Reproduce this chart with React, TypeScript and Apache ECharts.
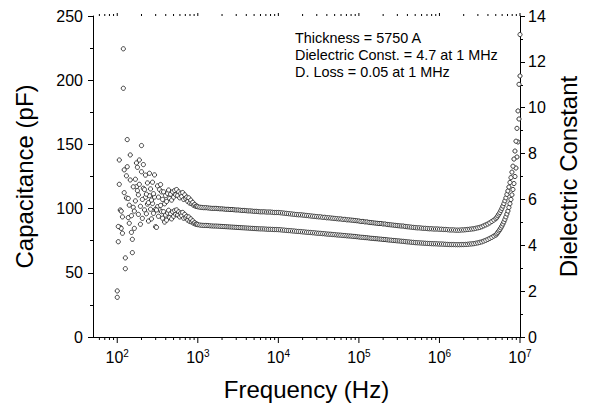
import React, { useEffect, useRef } from 'react';
import * as echarts from 'echarts';

// ---- frequency sweep (Hz) ----
const freqA = [100,103,106,109,112,116,119,122,126,130,133,137,141,145,150,154,158,163,168,173,178,183,188,194,200,205,211,218,224,230,237,244,251,259,266,274,282,290,299,307,316,325,335,345,355,365,376,387,398,410,422,434,447,460,473,487,501,516,531,546,562,579,596,613,631,649,668,688,708,729,750,772,794,818,841,866,891,917,944,972];
const freqB = [1000,1059,1122,1189,1259,1334,1413,1496,1585,1679,1778,1884,1995,2113,2239,2371,2512,2661,2818,2985,3162,3350,3548,3758,3981,4217,4467,4732,5012,5309,5623,5957,6310,6683,7079,7499,7943,8414,8913,9441];
const freqC = [10000,10590,11220,11890,12590,13340,14130,14960,15850,16790,17780,18840,19950,21130,22390,23710,25120,26610,28180,29850,31620,33500,35480,37580,39810,42170,44670,47320,50120,53090,56230,59570,63100,66830,70790,74990,79430,84140,89130,94410];
const freqD = [1.000e5,1.059e5,1.122e5,1.189e5,1.259e5,1.334e5,1.413e5,1.496e5,1.585e5,1.679e5,1.778e5,1.884e5,1.995e5,2.113e5,2.239e5,2.371e5,2.512e5,2.661e5,2.818e5,2.985e5,3.162e5,3.350e5,3.548e5,3.758e5,3.981e5,4.217e5,4.467e5,4.732e5,5.012e5,5.309e5,5.623e5,5.957e5,6.310e5,6.683e5,7.079e5,7.499e5,7.943e5,8.414e5,8.913e5,9.441e5];
const freqE = [1.000e6,1.059e6,1.122e6,1.189e6,1.259e6,1.334e6,1.413e6,1.496e6,1.585e6,1.679e6,1.778e6,1.884e6,1.995e6,2.113e6,2.239e6,2.371e6,2.512e6,2.661e6,2.818e6,2.985e6,3.162e6,3.350e6,3.548e6,3.758e6,3.981e6,4.217e6,4.467e6,4.732e6,5.012e6,5.158e6,5.309e6,5.464e6,5.623e6,5.788e6,5.957e6,6.131e6,6.310e6,6.494e6,6.683e6,6.879e6,7.079e6,7.286e6,7.499e6,7.718e6,7.943e6,8.175e6,8.414e6,8.660e6,8.913e6,9.173e6,9.441e6,9.716e6,1.000e7];

// ---- capacitance (pF), left axis ----
const capA = [30.9,74.2,118.9,85.3,84.6,80.8,193.7,112.4,53.2,108.3,132.6,93.0,88.6,122.3,81.5,65.7,101.0,84.6,106.0,117.0,114.0,95.5,118.9,87.8,128.7,92.4,115.8,99.0,108.8,96.0,103.5,90.3,110.0,99.5,92.0,104.0,96.3,109.0,85.9,85.4,101.5,94.0,99.0,102.5,97.6,92.5,97.6,89.5,95.0,91.0,96.5,98.7,93.0,96.0,92.0,97.5,94.0,98.5,95.5,99.0,95.0,97.5,93.5,96.5,94.5,97.0,92.5,95.5,93.0,94.0,91.0,93.5,90.0,92.0,89.5,90.5,88.5,89.0,87.8,88.0];
const capB = [87.5,87.2,87.0,86.9,86.9,86.8,86.6,86.5,86.4,86.4,86.3,86.2,86.1,86.0,85.9,85.8,85.7,85.6,85.5,85.4,85.3,85.2,85.1,85.0,84.9,84.8,84.7,84.6,84.5,84.4,84.3,84.2,84.2,84.1,84.0,83.9,83.9,83.8,83.7,83.7];
const capC = [83.6,83.5,83.3,83.2,83.0,82.9,82.8,82.6,82.5,82.3,82.2,82.1,81.9,81.8,81.6,81.5,81.4,81.2,81.1,80.9,80.8,80.7,80.5,80.4,80.2,80.1,80.0,79.8,79.7,79.5,79.4,79.3,79.1,79.0,78.8,78.7,78.6,78.4,78.3,78.1];
const capD = [77.9,77.7,77.6,77.4,77.3,77.1,76.9,76.8,76.6,76.5,76.3,76.2,76.0,75.9,75.7,75.5,75.4,75.2,75.1,74.9,74.8,74.6,74.5,74.3,74.1,74.0,73.8,73.7,73.5,73.4,73.3,73.2,73.1,73.0,72.9,72.8,72.7,72.6,72.6,72.5];
const capE = [72.4,72.4,72.3,72.2,72.1,72.0,72.0,72.0,71.9,71.9,71.9,72.0,72.0,72.1,72.2,72.4,72.5,72.7,73.0,73.3,73.7,74.1,74.7,75.3,76.0,76.8,77.6,78.6,79.4,80.4,81.5,82.6,83.7,85.0,86.4,88.0,89.7,91.6,93.6,95.8,98.1,100.9,103.8,107.1,110.7,114.9,119.5,125.0,131.6,140.2,151.9,169.8,203.3];

// ---- dielectric constant, right axis ----
const epsA = [2.01,4.82,7.72,5.54,5.49,5.24,12.57,7.29,3.45,7.03,8.61,6.04,5.75,7.94,5.29,4.26,6.55,5.49,6.88,7.59,7.40,6.20,7.72,5.70,8.35,6.00,7.52,6.43,7.06,6.23,6.72,5.86,7.14,6.46,5.97,6.75,6.25,7.07,5.57,5.54,6.59,6.10,6.43,6.65,6.33,6.00,6.33,5.81,6.17,5.91,6.26,6.41,6.04,6.23,5.97,6.33,6.10,6.39,6.20,6.43,6.17,6.33,6.07,6.26,6.13,6.30,6.00,6.20,6.04,6.10,5.91,6.07,5.84,5.97,5.81,5.87,5.74,5.78,5.70,5.71];
const epsB = [5.68,5.66,5.65,5.64,5.64,5.63,5.62,5.61,5.61,5.61,5.60,5.59,5.59,5.58,5.57,5.57,5.56,5.56,5.55,5.54,5.54,5.53,5.52,5.52,5.51,5.50,5.50,5.49,5.48,5.48,5.47,5.46,5.46,5.46,5.45,5.45,5.45,5.44,5.43,5.43];
const epsC = [5.43,5.42,5.41,5.40,5.39,5.38,5.37,5.36,5.35,5.34,5.33,5.33,5.32,5.31,5.30,5.29,5.28,5.27,5.26,5.25,5.24,5.24,5.22,5.22,5.20,5.20,5.19,5.18,5.17,5.16,5.15,5.15,5.13,5.13,5.11,5.11,5.10,5.09,5.08,5.07];
const epsD = [5.06,5.04,5.04,5.02,5.02,5.00,4.99,4.98,4.97,4.96,4.95,4.95,4.93,4.93,4.91,4.90,4.89,4.88,4.87,4.86,4.85,4.84,4.84,4.82,4.81,4.80,4.79,4.78,4.77,4.76,4.76,4.75,4.74,4.74,4.73,4.72,4.72,4.71,4.71,4.71];
const epsE = [4.70,4.70,4.69,4.69,4.68,4.67,4.67,4.67,4.66,4.66,4.66,4.67,4.67,4.68,4.69,4.70,4.71,4.72,4.74,4.76,4.78,4.81,4.85,4.89,4.93,4.98,5.04,5.10,5.16,5.22,5.29,5.36,5.43,5.52,5.61,5.71,5.82,5.94,6.07,6.22,6.37,6.54,6.74,6.95,7.19,7.45,7.76,8.11,8.54,9.10,9.86,11.02,13.19];

// ---- axis ticks ----
const majorTickFreqs = [1e2, 1e3, 1e4, 1e5, 1e6, 1e7];
const lowMinorTicks = [60, 70, 80, 90];
const minorMultipliers = [2, 3, 4, 5, 6, 7, 8, 9];
const decadeStarts = [1e2, 1e3, 1e4, 1e5, 1e6];

const annotations = [
  'Thickness = 5750 A',
  'Dielectric Const. = 4.7 at 1 MHz',
  'D. Loss = 0.05 at 1 MHz',
];

const FONT = '"Liberation Sans", Arial, Helvetica, sans-serif';

export default function App() {
  const ref = useRef<HTMLDivElement>(null);
  useEffect(() => {
    document.body.style.margin = '0';
    const chart = echarts.init(ref.current as HTMLDivElement, null, { renderer: 'svg' });

    const FREQ = [...freqA, ...freqB, ...freqC, ...freqD, ...freqE];
    const CAP = [...capA, ...capB, ...capC, ...capD, ...capE];
    const EPS = [...epsA, ...epsB, ...epsC, ...epsD, ...epsE];
    const capData = FREQ.map((f, i) => [f, CAP[i]]);
    const epsData = FREQ.map((f, i) => [f, EPS[i]]);

    const tickData: number[][] = [];
    majorTickFreqs.forEach((f) => tickData.push([f, 1]));
    lowMinorTicks.forEach((f) => tickData.push([f, 0]));
    decadeStarts.forEach((d) => minorMultipliers.forEach((m) => tickData.push([d * m, 0])));

    const axisColor = '#000';
    const symStyle = { color: '#ffffff', borderColor: '#1e1e1e', borderWidth: 0.85, opacity: 1 };

    chart.setOption({
      animation: false,
      backgroundColor: '#fff',
      grid: { left: 93, right: 69, top: 16, bottom: 71, containLabel: false },
      xAxis: [
        {
          type: 'log',
          logBase: 10,
          min: 50,
          max: 1e7,
          position: 'bottom',
          axisLine: { show: true, lineStyle: { color: axisColor, width: 1 } },
          axisTick: { show: false },
          minorTick: { show: false },
          splitLine: { show: false },
          axisLabel: {
            margin: 11,
            formatter: (v: number) => {
              const e = Math.round(Math.log10(v));
              if (Math.abs(v - Math.pow(10, e)) / Math.pow(10, e) > 1e-6) return '';
              return `{b|10}{s|${e}}`;
            },
            rich: {
              b: { fontSize: 16, fontFamily: FONT, color: '#000' },
              s: { fontSize: 10, fontFamily: FONT, color: '#000', padding: [0, 0, 9, 0] },
            },
          },
          name: 'Frequency (Hz)',
          nameLocation: 'middle',
          nameGap: 40,
          nameTextStyle: { fontSize: 24, fontFamily: FONT, color: '#000' },
        },
        {
          type: 'log',
          logBase: 10,
          min: 50,
          max: 1e7,
          position: 'top',
          axisLine: { show: true, lineStyle: { color: axisColor, width: 1 } },
          axisTick: { show: false },
          axisLabel: { show: false },
          splitLine: { show: false },
        },
      ],
      yAxis: [
        {
          type: 'value',
          min: 0,
          max: 250,
          interval: 50,
          position: 'left',
          axisLine: { show: true, lineStyle: { color: axisColor, width: 1 } },
          axisTick: { show: true, length: 5, lineStyle: { color: axisColor } },
          minorTick: { show: true, splitNumber: 2, length: 3, lineStyle: { color: axisColor } },
          splitLine: { show: false },
          axisLabel: { fontSize: 16, fontFamily: FONT, color: '#000', margin: 10 },
          name: 'Capacitance (pF)',
          nameLocation: 'middle',
          nameGap: 57,
          nameTextStyle: { fontSize: 24, fontFamily: FONT, color: '#000' },
        },
        {
          type: 'value',
          min: 0,
          max: 14,
          interval: 2,
          position: 'right',
          axisLine: { show: true, lineStyle: { color: axisColor, width: 1 } },
          axisTick: { show: true, length: 5, lineStyle: { color: axisColor } },
          minorTick: { show: true, splitNumber: 2, length: 3, lineStyle: { color: axisColor } },
          splitLine: { show: false },
          axisLabel: { fontSize: 16, fontFamily: FONT, color: '#000', margin: 8 },
          name: 'Dielectric Constant',
          nameLocation: 'middle',
          nameGap: 36,
          nameTextStyle: { fontSize: 24, fontFamily: FONT, color: '#000' },
        },
      ],
      graphic: annotations.map((t, i) => ({
        type: 'text',
        left: 295,
        top: 31 + i * 17,
        style: { text: t, fontSize: 14.4, fontFamily: FONT, fill: '#000' },
      })),
      series: [
        {
          name: 'Capacitance',
          type: 'scatter',
          xAxisIndex: 0,
          yAxisIndex: 0,
          symbol: 'circle',
          symbolSize: 4.2,
          itemStyle: symStyle,
          data: capData,
          clip: false,
        },
        {
          name: 'Dielectric Constant',
          type: 'scatter',
          xAxisIndex: 0,
          yAxisIndex: 1,
          symbol: 'circle',
          symbolSize: 4.2,
          itemStyle: symStyle,
          data: epsData,
          clip: false,
        },
        {
          type: 'custom',
          xAxisIndex: 0,
          yAxisIndex: 0,
          silent: true,
          clip: false,
          z: 10,
          data: tickData,
          renderItem: (params: any, api: any) => {
            const f = api.value(0);
            const major = api.value(1) === 1;
            const pb = api.coord([f, 0]);
            const pt = api.coord([f, 250]);
            const st = { stroke: axisColor, lineWidth: 1 };
            return {
              type: 'group',
              children: [
                { type: 'line', shape: { x1: pb[0], y1: pb[1], x2: pb[0], y2: pb[1] + (major ? 6 : 3) }, style: st },
                { type: 'line', shape: { x1: pt[0], y1: pt[1], x2: pt[0], y2: pt[1] - (major ? 3 : 2) }, style: st },
              ],
            };
          },
        },
      ],
    });
    return () => chart.dispose();
  }, []);
  return <div ref={ref} style={{ width: 589, height: 408 }} />;
}
